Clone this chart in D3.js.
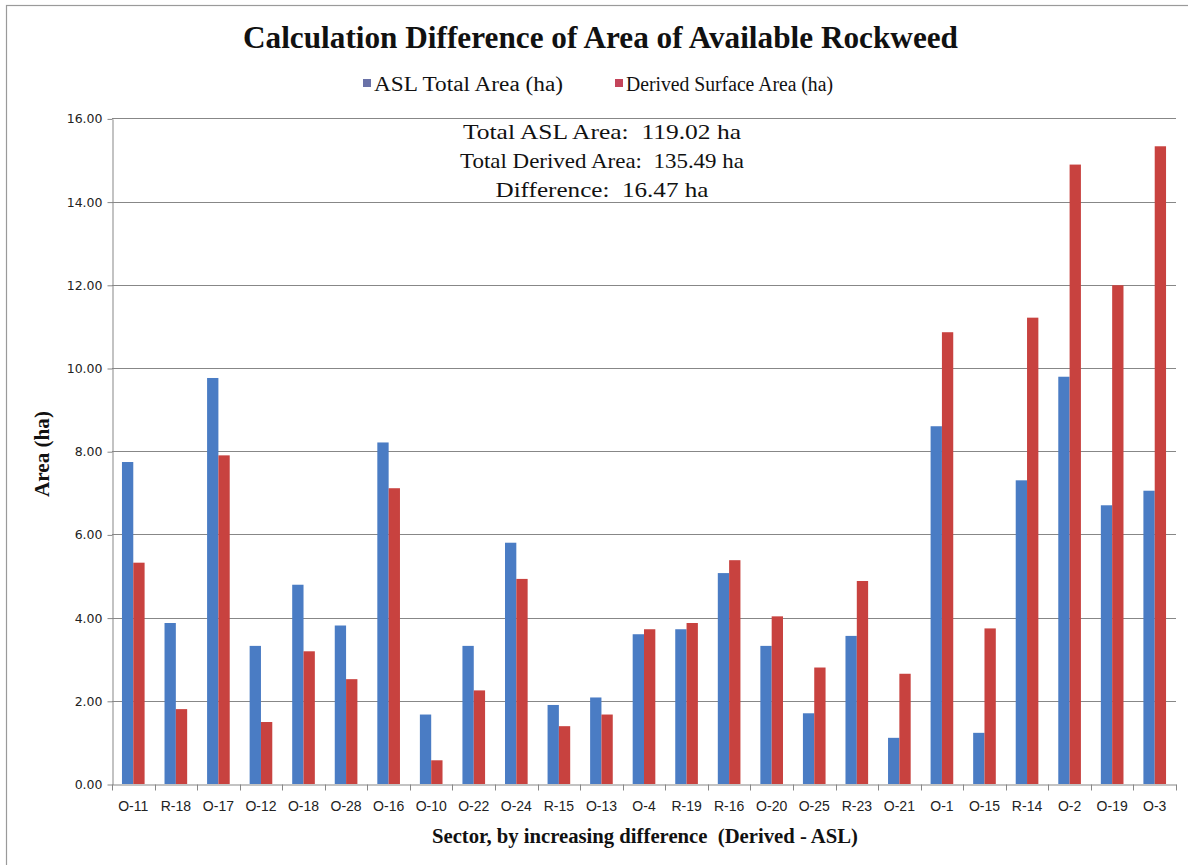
<!DOCTYPE html>
<html>
<head>
<meta charset="utf-8">
<script src="https://cdn.jsdelivr.net/npm/d3@7"></script>
<style>
  html, body { margin: 0; padding: 0; background: #ffffff; }
  svg { display: block; }
</style>
</head>
<body>
<svg id="chart" width="1188" height="865"></svg>
<script>
// Sectors, ordered by increasing difference (Derived - ASL)
const sectors = ["O-11","R-18","O-17","O-12","O-18","O-28","O-16","O-10","O-22","O-24",
                 "R-15","O-13","O-4","R-19","R-16","O-20","O-25","R-23","O-21","O-1",
                 "O-15","R-14","O-2","O-19","O-3"];

// ASL total area per sector (ha)
const aslArea = [7.74, 3.87, 9.76, 3.32, 4.79, 3.81, 8.21, 1.67, 3.32, 5.80,
                 1.90, 2.08, 3.60, 3.72, 5.07, 3.32, 1.70, 3.56, 1.11, 8.60,
                 1.23, 7.30, 9.79, 6.70, 7.05];

// Derived surface area per sector (ha)
const derivedArea = [5.32, 1.80, 7.90, 1.49, 3.19, 2.52, 7.11, 0.57, 2.25, 4.93,
                     1.39, 1.67, 3.72, 3.87, 5.38, 4.03, 2.80, 4.88, 2.65, 10.86,
                     3.74, 11.21, 14.89, 11.99, 15.33];

const seriesNames = ["ASL Total Area (ha)", "Derived Surface Area (ha)"];
const seriesColors = ["#4a7cc4", "#c8423f"];
const legendSwatchColors = ["#6a72a8", "#c4445a"];
const yTicks = [0, 2, 4, 6, 8, 10, 12, 14, 16];

const summaryLines = [
  "Total ASL Area:  119.02 ha",
  "Total Derived Area:  135.49 ha",
  "Difference:  16.47 ha"
];

const rows = sectors.map((s, i) => ({ sector: s, values: [aslArea[i], derivedArea[i]] }));

const serif = "'Liberation Serif', 'Times New Roman', serif";
const svg = d3.select("#chart");
const plot = { left: 112, right: 1176, top: 118.4, bottom: 784 };

// outer chart frame
svg.append("rect")
  .attr("x", 6.5).attr("y", 5.5)
  .attr("width", 1200).attr("height", 900)
  .attr("fill", "none").attr("stroke", "#9a9a9a").attr("stroke-width", 1.2);

const x = d3.scaleBand().domain(sectors).range([plot.left, plot.right]).padding(0);
const xInner = d3.scaleBand().domain([0, 1]).range([0, x.bandwidth()]).paddingInner(0).paddingOuter(0.88);
const y = d3.scaleLinear().domain([0, 16]).range([plot.bottom, plot.top]);

// horizontal gridlines
svg.append("g")
  .selectAll("line")
  .data(yTicks.filter(d => d > 0))
  .join("line")
  .attr("x1", plot.left).attr("x2", plot.right)
  .attr("y1", d => Math.round(y(d)) + 0.5).attr("y2", d => Math.round(y(d)) + 0.5)
  .attr("stroke", "#878787").attr("stroke-width", 1);

// bars
svg.append("g")
  .selectAll("g")
  .data(rows)
  .join("g")
  .attr("transform", d => `translate(${x(d.sector)},0)`)
  .selectAll("rect")
  .data(d => d.values.map((v, k) => ({ v, k })))
  .join("rect")
  .attr("x", d => xInner(d.k))
  .attr("width", xInner.bandwidth())
  .attr("y", d => y(d.v))
  .attr("height", d => y(0) - y(d.v))
  .attr("fill", d => seriesColors[d.k]);

// y axis
const yAxis = d3.axisLeft(y).tickValues(yTicks).tickFormat(d3.format(".2f")).tickSize(5).tickSizeOuter(0);
const gy = svg.append("g").attr("transform", `translate(${plot.left + 0.5},0.5)`).call(yAxis);
gy.select(".domain").attr("stroke", "#878787");
gy.selectAll(".tick line").attr("stroke", "#878787");
gy.selectAll(".tick text")
  .attr("x", -10)
  .attr("font-family", "'DejaVu Sans', Verdana, sans-serif")
  .attr("font-size", 12.5)
  .attr("fill", "#222");

// x axis
const xAxis = d3.axisBottom(x).tickSize(0).tickSizeOuter(0);
const gx = svg.append("g").attr("transform", `translate(0,${plot.bottom + 0.5})`).call(xAxis);
gx.select(".domain").attr("stroke", "#878787");
gx.selectAll(".tick text")
  .attr("y", 17)
  .attr("font-family", "'Liberation Sans', Arial, sans-serif")
  .attr("font-size", 14)
  .attr("fill", "#222");
// category separators (tick marks between bands)
gx.append("g")
  .selectAll("line")
  .data(sectors.map(s => x(s) + x.bandwidth()).concat([plot.left]))
  .join("line")
  .attr("x1", d => Math.round(d) + 0.5).attr("x2", d => Math.round(d) + 0.5)
  .attr("y1", 0).attr("y2", 6)
  .attr("stroke", "#878787");

// helper for serif captions set to a fixed width
function caption(sel, opts) {
  return sel.append("text")
    .attr("x", opts.x).attr("y", opts.y)
    .attr("text-anchor", opts.anchor || "middle")
    .attr("font-family", serif)
    .attr("font-weight", opts.bold ? "bold" : "normal")
    .attr("font-size", opts.size)
    .attr("fill", "#111")
    .attr("textLength", opts.len)
    .attr("lengthAdjust", "spacingAndGlyphs")
    .style("white-space", "pre")
    .text(opts.text);
}

// title
caption(svg, { x: 600.5, y: 48, size: 31, bold: true, len: 715,
  text: "Calculation Difference of Area of Available Rockweed" });

// legend
const legendX = [363, 615];
const legendLen = [189, 207];
seriesNames.forEach((name, k) => {
  svg.append("rect")
    .attr("x", legendX[k]).attr("y", 79)
    .attr("width", 8).attr("height", 8)
    .attr("fill", legendSwatchColors[k]);
  caption(svg, { x: legendX[k] + 11, y: 90.5, size: 20, anchor: "start",
    len: legendLen[k], text: name });
});

// summary annotation
const summaryLen = [278, 284, 213];
summaryLines.forEach((line, i) => {
  caption(svg, { x: 602, y: 138.5 + i * 29, size: 21, len: summaryLen[i], text: line });
});

// axis titles
caption(svg.append("g").attr("transform", "translate(49,454) rotate(-90)"),
  { x: 0, y: 0, size: 20, bold: true, len: 86, text: "Area (ha)" });

caption(svg, { x: 645, y: 843, size: 20, bold: true, len: 426,
  text: "Sector, by increasing difference  (Derived - ASL)" });
</script>
</body>
</html>
